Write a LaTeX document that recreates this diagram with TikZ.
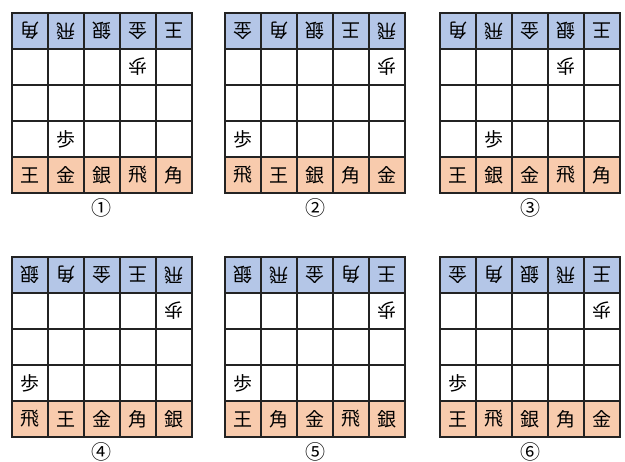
\documentclass[tikz,border=0pt]{standalone}
\usepackage{fontspec}
\newfontfamily\jpfont{Noto Sans CJK JP}
\usetikzlibrary{positioning}
\definecolor{gotecolor}{RGB}{180,198,231}
\definecolor{sentecolor}{RGB}{248,203,173}
\definecolor{gridcolor}{RGB}{35,35,35}

\begin{document}
\begin{tikzpicture}[
    x=1pt, y=-1pt,
    cell/.style={draw=gridcolor, line width=1.1pt, minimum size=36pt, inner sep=0pt, font=\jpfont\fontsize{19}{19}\selectfont},
    gote/.style={cell, fill=gotecolor, rotate=180},
    sente/.style={cell, fill=sentecolor},
    blank/.style={cell, fill=white},
    pawn/.style={inner sep=0pt, font=\jpfont\fontsize{19}{19}\selectfont},
    caption/.style={inner sep=0pt, font=\jpfont\fontsize{20}{20}\selectfont},
]
    \useasboundingbox (0,0) rectangle (625,462);

    % board number / top-left corner / bottom row pieces / pawn column / label
    \foreach \n/\bx/\by/\pa/\pb/\pc/\pd/\pe/\pw/\lab in {
        1/12/13/王/金/銀/飛/角/2/①,
        2/225/13/飛/王/銀/角/金/1/②,
        3/440/13/王/銀/金/飛/角/2/③,
        4/12/257/飛/王/金/角/銀/1/④,
        5/225/257/王/角/金/飛/銀/1/⑤,
        6/440/257/王/飛/銀/角/金/1/⑥} {
        % empty middle rows
        \foreach \r in {2,3,4}
            \foreach \k in {1,...,5}
                \node[blank] (b\n-\r-\k) at ({\bx+36*(\k-1)+18},{\by+36*(\r-1)+18}) {};
        % own pieces and the opponent's, turned round
        \foreach \k/\p in {1/\pa,2/\pb,3/\pc,4/\pd,5/\pe} {
            \node[sente] (b\n-5-\k) at ({\bx+36*(\k-1)+18},{\by+162}) {\p};
            \node[gote] (b\n-1-\k) at ({\bx+36*(5-\k)+18},{\by+18}) {\p};
        }
        % pawns
        \pgfmathtruncatemacro{\qw}{6-\pw}
        \node[pawn] (p\n-a) at (b\n-4-\pw) {歩};
        \node[pawn, rotate=180] (p\n-b) at (b\n-2-\qw) {歩};
        % label
        \node[caption, anchor=center] (lab\n) at ([yshift=-14.5pt]b\n-5-3.south) {\lab};
    }
\end{tikzpicture}
\end{document}
